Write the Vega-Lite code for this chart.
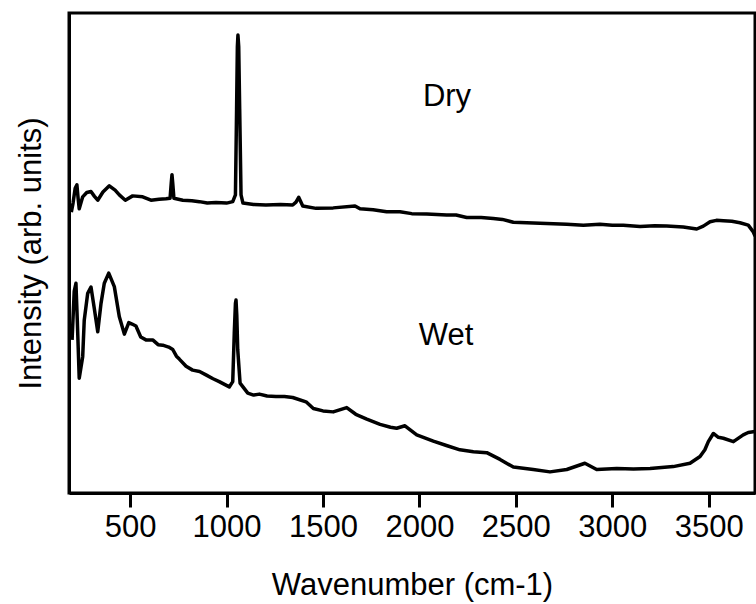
{
  "$schema": "https://vega.github.io/schema/vega-lite/v6.json",
  "width": 686,
  "height": 480,
  "autosize": {"type": "none"},
  "padding": {"left": 69, "top": 13, "right": 1, "bottom": 111},
  "background": "white",
  "config": {
    "view": {"stroke": "black", "strokeWidth": 3},
    "font": "Liberation Sans",
    "axis": {
      "grid": false,
      "domainColor": "black",
      "domainWidth": 3,
      "titleFontWeight": "normal",
      "titleColor": "black",
      "labelColor": "black"
    },
    "axisX": {
      "ticks": true,
      "tickColor": "black",
      "tickWidth": 3,
      "tickSize": 14,
      "labelFontSize": 31,
      "labelPadding": 5,
      "titleFontSize": 31,
      "titlePadding": 28
    },
    "axisY": {
      "ticks": false,
      "labels": false,
      "titleFontSize": 31,
      "titlePadding": 22
    }
  },
  "datasets": {
    "spectra": [
      {"series": "Dry", "w": 195, "i": 58.5},
      {"series": "Dry", "w": 204, "i": 60.4},
      {"series": "Dry", "w": 215, "i": 63.5},
      {"series": "Dry", "w": 224, "i": 64.2},
      {"series": "Dry", "w": 230, "i": 61.5},
      {"series": "Dry", "w": 236, "i": 59.2},
      {"series": "Dry", "w": 254, "i": 61.7},
      {"series": "Dry", "w": 275, "i": 62.6},
      {"series": "Dry", "w": 297, "i": 62.8},
      {"series": "Dry", "w": 315, "i": 61.8},
      {"series": "Dry", "w": 332, "i": 61.0},
      {"series": "Dry", "w": 359, "i": 62.7},
      {"series": "Dry", "w": 392, "i": 64.0},
      {"series": "Dry", "w": 422, "i": 63.1},
      {"series": "Dry", "w": 444, "i": 62.1},
      {"series": "Dry", "w": 475, "i": 61.0},
      {"series": "Dry", "w": 513, "i": 61.9},
      {"series": "Dry", "w": 565, "i": 61.7},
      {"series": "Dry", "w": 608, "i": 61.0},
      {"series": "Dry", "w": 650, "i": 61.2},
      {"series": "Dry", "w": 686, "i": 61.3},
      {"series": "Dry", "w": 707, "i": 61.4},
      {"series": "Dry", "w": 713, "i": 64.5},
      {"series": "Dry", "w": 717, "i": 66.3},
      {"series": "Dry", "w": 721, "i": 64.5},
      {"series": "Dry", "w": 727, "i": 61.4},
      {"series": "Dry", "w": 773, "i": 61.0},
      {"series": "Dry", "w": 820, "i": 60.9},
      {"series": "Dry", "w": 859, "i": 60.7},
      {"series": "Dry", "w": 900, "i": 60.4},
      {"series": "Dry", "w": 945, "i": 60.5},
      {"series": "Dry", "w": 1000, "i": 60.4},
      {"series": "Dry", "w": 1032, "i": 60.7},
      {"series": "Dry", "w": 1046, "i": 62.1},
      {"series": "Dry", "w": 1052, "i": 80.0},
      {"series": "Dry", "w": 1056, "i": 93.0},
      {"series": "Dry", "w": 1059, "i": 95.4},
      {"series": "Dry", "w": 1063, "i": 93.0},
      {"series": "Dry", "w": 1068, "i": 80.0},
      {"series": "Dry", "w": 1075, "i": 62.1},
      {"series": "Dry", "w": 1085, "i": 60.4},
      {"series": "Dry", "w": 1140, "i": 60.1},
      {"series": "Dry", "w": 1204, "i": 60.0},
      {"series": "Dry", "w": 1280, "i": 60.1},
      {"series": "Dry", "w": 1343, "i": 60.0},
      {"series": "Dry", "w": 1360, "i": 60.6},
      {"series": "Dry", "w": 1374, "i": 61.6},
      {"series": "Dry", "w": 1395, "i": 59.8},
      {"series": "Dry", "w": 1464, "i": 59.3},
      {"series": "Dry", "w": 1553, "i": 59.4},
      {"series": "Dry", "w": 1666, "i": 59.8},
      {"series": "Dry", "w": 1692, "i": 59.2},
      {"series": "Dry", "w": 1760, "i": 59.0},
      {"series": "Dry", "w": 1830, "i": 58.6},
      {"series": "Dry", "w": 1899, "i": 58.6},
      {"series": "Dry", "w": 1960, "i": 58.2},
      {"series": "Dry", "w": 2038, "i": 58.1},
      {"series": "Dry", "w": 2141, "i": 57.9},
      {"series": "Dry", "w": 2190, "i": 57.9},
      {"series": "Dry", "w": 2245, "i": 57.4},
      {"series": "Dry", "w": 2320, "i": 57.4},
      {"series": "Dry", "w": 2383, "i": 57.2},
      {"series": "Dry", "w": 2430, "i": 57.0},
      {"series": "Dry", "w": 2487, "i": 56.4},
      {"series": "Dry", "w": 2625, "i": 56.2},
      {"series": "Dry", "w": 2764, "i": 56.0},
      {"series": "Dry", "w": 2850, "i": 55.8},
      {"series": "Dry", "w": 2936, "i": 56.0},
      {"series": "Dry", "w": 3000, "i": 55.8},
      {"series": "Dry", "w": 3057, "i": 55.8},
      {"series": "Dry", "w": 3144, "i": 55.5},
      {"series": "Dry", "w": 3220, "i": 55.7},
      {"series": "Dry", "w": 3282, "i": 55.6},
      {"series": "Dry", "w": 3368, "i": 55.4},
      {"series": "Dry", "w": 3438, "i": 55.0},
      {"series": "Dry", "w": 3472, "i": 55.6},
      {"series": "Dry", "w": 3507, "i": 56.5},
      {"series": "Dry", "w": 3540, "i": 56.8},
      {"series": "Dry", "w": 3576, "i": 56.7},
      {"series": "Dry", "w": 3620, "i": 56.6},
      {"series": "Dry", "w": 3662, "i": 56.3},
      {"series": "Dry", "w": 3705, "i": 55.8},
      {"series": "Dry", "w": 3731, "i": 54.4},
      {"series": "Dry", "w": 3740, "i": 53.5},
      {"series": "Wet", "w": 199, "i": 31.9},
      {"series": "Wet", "w": 210, "i": 42.0},
      {"series": "Wet", "w": 219, "i": 43.7},
      {"series": "Wet", "w": 226, "i": 36.0},
      {"series": "Wet", "w": 236, "i": 23.9},
      {"series": "Wet", "w": 254, "i": 28.4},
      {"series": "Wet", "w": 262, "i": 36.0},
      {"series": "Wet", "w": 280, "i": 41.6},
      {"series": "Wet", "w": 297, "i": 42.9},
      {"series": "Wet", "w": 314, "i": 38.5},
      {"series": "Wet", "w": 332, "i": 33.6},
      {"series": "Wet", "w": 349, "i": 39.5},
      {"series": "Wet", "w": 366, "i": 43.7},
      {"series": "Wet", "w": 389, "i": 45.8},
      {"series": "Wet", "w": 418, "i": 43.0},
      {"series": "Wet", "w": 444, "i": 36.7},
      {"series": "Wet", "w": 470, "i": 33.1},
      {"series": "Wet", "w": 493, "i": 35.5},
      {"series": "Wet", "w": 510, "i": 35.2},
      {"series": "Wet", "w": 530, "i": 34.8},
      {"series": "Wet", "w": 555, "i": 32.5},
      {"series": "Wet", "w": 582, "i": 31.9},
      {"series": "Wet", "w": 617, "i": 31.9},
      {"series": "Wet", "w": 645, "i": 30.9},
      {"series": "Wet", "w": 669, "i": 30.8},
      {"series": "Wet", "w": 700, "i": 30.4},
      {"series": "Wet", "w": 721, "i": 29.9},
      {"series": "Wet", "w": 740, "i": 28.5},
      {"series": "Wet", "w": 755, "i": 27.9},
      {"series": "Wet", "w": 790, "i": 26.4},
      {"series": "Wet", "w": 824, "i": 25.6},
      {"series": "Wet", "w": 860, "i": 25.3},
      {"series": "Wet", "w": 893, "i": 24.6},
      {"series": "Wet", "w": 930, "i": 23.8},
      {"series": "Wet", "w": 962, "i": 23.2},
      {"series": "Wet", "w": 1014, "i": 22.1},
      {"series": "Wet", "w": 1032, "i": 23.2},
      {"series": "Wet", "w": 1040, "i": 33.3},
      {"series": "Wet", "w": 1046, "i": 39.5},
      {"series": "Wet", "w": 1049, "i": 40.2},
      {"series": "Wet", "w": 1053, "i": 37.0},
      {"series": "Wet", "w": 1058, "i": 29.8},
      {"series": "Wet", "w": 1070, "i": 22.9},
      {"series": "Wet", "w": 1110, "i": 20.8},
      {"series": "Wet", "w": 1140, "i": 20.4},
      {"series": "Wet", "w": 1170, "i": 20.6},
      {"series": "Wet", "w": 1210, "i": 20.2},
      {"series": "Wet", "w": 1256, "i": 20.1},
      {"series": "Wet", "w": 1300, "i": 20.1},
      {"series": "Wet", "w": 1343, "i": 19.9},
      {"series": "Wet", "w": 1412, "i": 19.0},
      {"series": "Wet", "w": 1450, "i": 17.6},
      {"series": "Wet", "w": 1500, "i": 17.1},
      {"series": "Wet", "w": 1553, "i": 16.9},
      {"series": "Wet", "w": 1623, "i": 17.8},
      {"series": "Wet", "w": 1670, "i": 16.4},
      {"series": "Wet", "w": 1727, "i": 15.4},
      {"series": "Wet", "w": 1796, "i": 14.3},
      {"series": "Wet", "w": 1850, "i": 13.7},
      {"series": "Wet", "w": 1882, "i": 13.5},
      {"series": "Wet", "w": 1925, "i": 14.0},
      {"series": "Wet", "w": 1986, "i": 12.1},
      {"series": "Wet", "w": 2072, "i": 10.8},
      {"series": "Wet", "w": 2140, "i": 9.9},
      {"series": "Wet", "w": 2210, "i": 9.0},
      {"series": "Wet", "w": 2280, "i": 8.6},
      {"series": "Wet", "w": 2349, "i": 8.4},
      {"series": "Wet", "w": 2418, "i": 7.0},
      {"series": "Wet", "w": 2487, "i": 5.4},
      {"series": "Wet", "w": 2590, "i": 4.9},
      {"series": "Wet", "w": 2677, "i": 4.4},
      {"series": "Wet", "w": 2764, "i": 4.9},
      {"series": "Wet", "w": 2858, "i": 6.2},
      {"series": "Wet", "w": 2919, "i": 4.9},
      {"series": "Wet", "w": 3023, "i": 5.1},
      {"series": "Wet", "w": 3110, "i": 5.0},
      {"series": "Wet", "w": 3196, "i": 5.1},
      {"series": "Wet", "w": 3316, "i": 5.5},
      {"series": "Wet", "w": 3403, "i": 6.2},
      {"series": "Wet", "w": 3455, "i": 7.6},
      {"series": "Wet", "w": 3480, "i": 9.0},
      {"series": "Wet", "w": 3498, "i": 10.7},
      {"series": "Wet", "w": 3524, "i": 12.4},
      {"series": "Wet", "w": 3550, "i": 11.6},
      {"series": "Wet", "w": 3576, "i": 11.4},
      {"series": "Wet", "w": 3628, "i": 10.7},
      {"series": "Wet", "w": 3679, "i": 12.1},
      {"series": "Wet", "w": 3705, "i": 12.6},
      {"series": "Wet", "w": 3740, "i": 12.8}
    ],
    "labels": [
      {"label": "Dry", "w": 2143, "i": 80.6},
      {"label": "Wet", "w": 2138, "i": 30.8}
    ]
  },
  "layer": [
    {
      "data": {"name": "spectra"},
      "mark": {"type": "line", "strokeWidth": 3.5, "color": "black", "clip": true, "strokeJoin": "round"},
      "encoding": {
        "x": {
          "field": "w",
          "type": "quantitative",
          "scale": {"domain": [183, 3740], "nice": false, "zero": false},
          "axis": {
            "values": [500, 1000, 1500, 2000, 2500, 3000, 3500],
            "format": "d",
            "title": "Wavenumber (cm-1)"
          }
        },
        "y": {
          "field": "i",
          "type": "quantitative",
          "scale": {"domain": [0, 100], "nice": false, "zero": false},
          "axis": {
            "title": "Intensity (arb. units)"
          }
        },
        "detail": {"field": "series", "type": "nominal"}
      }
    },
    {
      "data": {"name": "labels"},
      "mark": {"type": "text", "fontSize": 31, "color": "black", "align": "center", "baseline": "alphabetic"},
      "encoding": {
        "x": {"field": "w", "type": "quantitative"},
        "y": {"field": "i", "type": "quantitative"},
        "text": {"field": "label", "type": "nominal"}
      }
    }
  ]
}
